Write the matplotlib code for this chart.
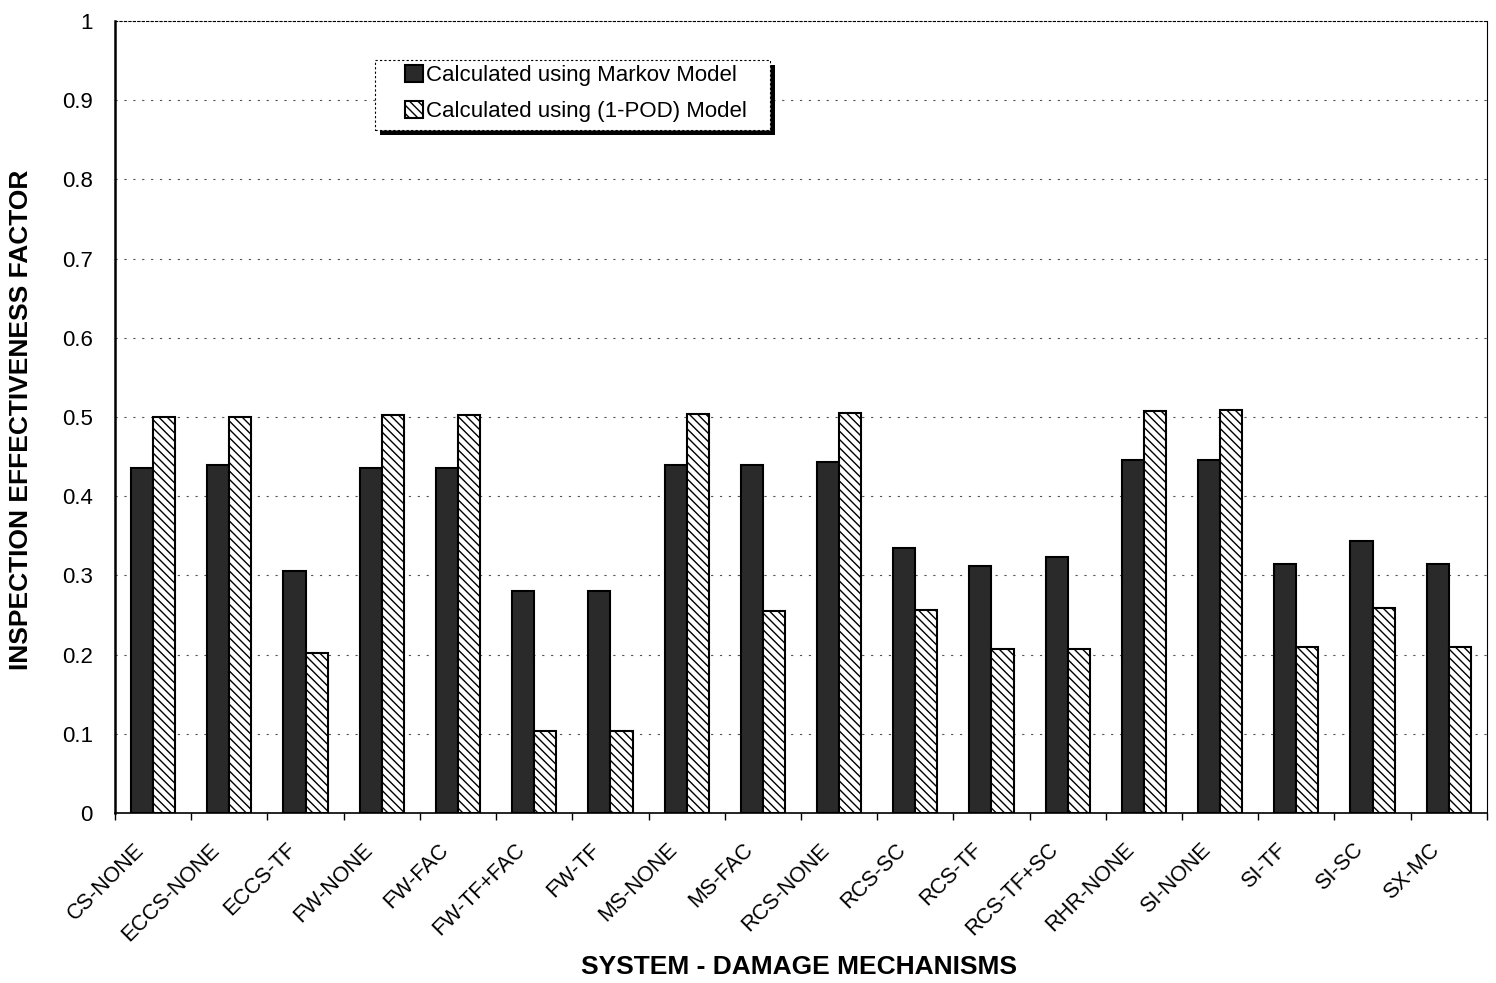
import matplotlib
matplotlib.use("Agg")
import matplotlib.pyplot as plt
import numpy as np
from matplotlib.ticker import FixedLocator, NullFormatter
from matplotlib.transforms import ScaledTranslation
from matplotlib.patches import Rectangle

plt.rcParams['font.family'] = ['Liberation Sans', 'DejaVu Sans']

categories = ["CS-NONE", "ECCS-NONE", "ECCS-TF", "FW-NONE", "FW-FAC", "FW-TF+FAC",
              "FW-TF", "MS-NONE", "MS-FAC", "RCS-NONE", "RCS-SC", "RCS-TF",
              "RCS-TF+SC", "RHR-NONE", "SI-NONE", "SI-TF", "SI-SC", "SX-MC"]
markov = [0.436, 0.439, 0.306, 0.436, 0.436, 0.280, 0.280, 0.439, 0.439, 0.443,
          0.335, 0.312, 0.323, 0.446, 0.446, 0.314, 0.343, 0.314]
pod = [0.500, 0.500, 0.202, 0.502, 0.502, 0.104, 0.104, 0.504, 0.255, 0.505,
       0.256, 0.207, 0.207, 0.508, 0.509, 0.210, 0.259, 0.210]
yticks = [0, 0.1, 0.2, 0.3, 0.4, 0.5, 0.6, 0.7, 0.8, 0.9, 1]
ytick_labels = ["0", "0.1", "0.2", "0.3", "0.4", "0.5", "0.6", "0.7", "0.8", "0.9", "1"]

fig = plt.figure(figsize=(14.96, 9.83), dpi=100)
ax = fig.add_axes([0.0769, 0.173, 0.917, 0.8056])

x = np.arange(len(categories))
w = 0.29
ax.bar(x - w / 2, markov, w, facecolor="#2a2a2a", edgecolor="black", linewidth=1.5,
       label="Calculated using Markov Model", zorder=3)
ax.bar(x + w / 2, pod, w, facecolor="white", edgecolor="black", linewidth=1.5,
       hatch="\\\\\\\\", label="Calculated using (1-POD) Model", zorder=3)

ax.set_xlim(-0.5, len(categories) - 0.5)
ax.set_ylim(0, 1)
ax.set_yticks(yticks)
ax.set_yticklabels(ytick_labels, fontsize=16)
ax.tick_params(axis="y", length=0, pad=16)

ax.set_xticks(x)
ax.set_xticklabels(categories, rotation=45, ha="right", rotation_mode="anchor", fontsize=15.5)
ax.tick_params(axis="x", which="major", length=0, pad=19)
shift = ScaledTranslation(-0.2, 0, fig.dpi_scale_trans)
for lab in ax.get_xticklabels():
    lab.set_transform(lab.get_transform() + shift)
ax.xaxis.set_minor_locator(FixedLocator(np.arange(-0.5, len(categories), 1.0)))
ax.xaxis.set_minor_formatter(NullFormatter())
ax.tick_params(axis="x", which="minor", length=5, width=1, direction="out")

ax.yaxis.grid(True, linestyle=(0, (2, 6)), color="#555555", linewidth=0.8, zorder=0)

ax.spines["left"].set_linewidth(1.8)
ax.spines["bottom"].set_linewidth(1.2)
ax.spines["top"].set_linestyle((0, (2, 2)))
ax.spines["top"].set_linewidth(0.8)
ax.spines["right"].set_linewidth(0.8)

ax.set_ylabel("INSPECTION EFFECTIVENESS FACTOR", fontsize=19, fontweight="bold")
ax.yaxis.set_label_coords(-0.060, 0.496)
ax.set_xlabel("SYSTEM - DAMAGE MECHANISMS", fontsize=19, fontweight="bold")
ax.xaxis.set_label_coords(0.4985, -0.179)

# legend frame with drop shadow
fx0, fx1, fy0, fy1 = 0.1895, 0.4774, 0.8624, 0.9508
ax.add_patch(Rectangle((fx0 + 0.0036, fy0 - 0.0063), fx1 - fx0, fy1 - fy0,
                       transform=ax.transAxes, facecolor="black", edgecolor="none", zorder=5))
ax.add_patch(Rectangle((fx0, fy0), fx1 - fx0, fy1 - fy0, transform=ax.transAxes,
                       facecolor="white", edgecolor="black", linewidth=0.8,
                       linestyle=(0, (2, 2)), zorder=6))

leg = ax.legend(loc="upper left", bbox_to_anchor=(0.2114, 0.945), fontsize=16, frameon=False,
                handlelength=0.8, handleheight=0.8, handletextpad=0.15,
                borderpad=0, labelspacing=0.68, borderaxespad=0)
leg.set_zorder(7)

fig.savefig("out.png", dpi=100)
